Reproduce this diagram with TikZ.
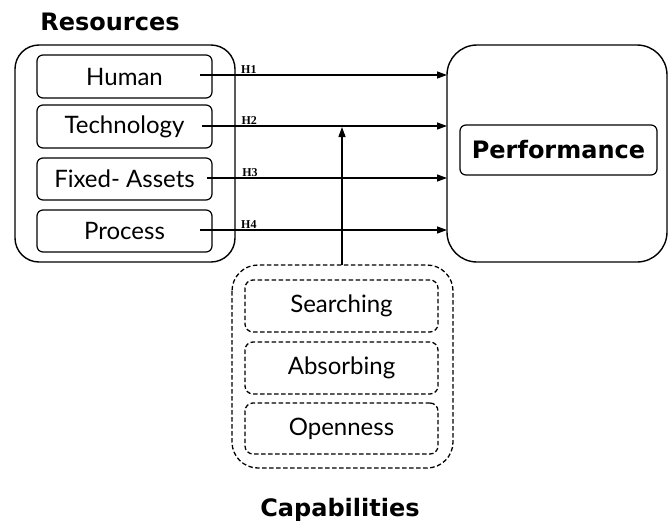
\documentclass[tikz,border=0pt]{standalone}
\usepackage{fontspec}
\setmainfont{Lato}
\newfontfamily\hfont{Liberation Serif}
\newfontfamily\tfont{DejaVu Sans}
\usetikzlibrary{arrows.meta}
\begin{document}
\begin{tikzpicture}[x=1pt,y=-1pt,
  outerbox/.style={draw, line width=1.4pt, rounded corners=24pt},
  innerbox/.style={draw, line width=1.2pt, rounded corners=6pt, font=\fontsize{24}{27}\selectfont},
  dbox/.style={draw, line width=1.3pt, dash pattern=on 4.5pt off 2.5pt},
  arr/.style={line width=1.3pt, -{Triangle[length=10pt,width=7pt]}},
  hlab/.style={font=\hfont\bfseries\fontsize{12}{13}\selectfont, anchor=south west, inner sep=1pt},
  title/.style={font=\tfont\bfseries\fontsize{24}{27}\selectfont}]
\useasboundingbox (0,0) rectangle (669,525);
% Resources
\node[title] (restitle) at (110,22) {Resources};
\draw[outerbox] (15,45) rectangle (235,262);
\node[innerbox, minimum width=175pt, minimum height=43pt] (human) at (124.5,76.5) {Human};
\node[innerbox, minimum width=175pt, minimum height=43pt] (tech) at (124.5,126.5) {Technology};
\node[innerbox, minimum width=175pt, minimum height=42pt] (fixed) at (124.5,179) {Fixed- Assets};
\node[innerbox, minimum width=175pt, minimum height=42pt] (proc) at (124.5,231) {Process};
% Performance
\draw[outerbox, rounded corners=30pt] (447,45) rectangle (667,262);
\node[innerbox, font=\tfont\bfseries\fontsize{24}{27}\selectfont, minimum width=197pt, minimum height=50pt] (perf) at (558.5,150) {Performance};
% arrows
\coordinate (e1) at (447,75);
\coordinate (e2) at (447,126);
\coordinate (e3) at (447,178);
\coordinate (e4) at (447,230);
\coordinate (s1) at (200,75);
\coordinate (s2) at (202,126);
\coordinate (s3) at (207,178);
\coordinate (s4) at (200,230);
\draw[arr] (s1) -- node[hlab, pos=0.16] {H1} (e1);
\draw[arr] (s2) -- node[hlab, pos=0.155] {H2} (e2);
\draw[arr] (s3) -- node[hlab, pos=0.14] {H3} (e3);
\draw[arr] (s4) -- node[hlab, pos=0.16] {H4} (e4);
% Capabilities
\draw[dbox, rounded corners=26pt] (232,265) rectangle (453,468);
\node[dbox, rounded corners=8pt, minimum width=193pt, minimum height=52pt, font=\fontsize{24}{27}\selectfont] (search) at (341.5,306) {Searching};
\node[dbox, rounded corners=8pt, minimum width=193pt, minimum height=52pt, font=\fontsize{24}{27}\selectfont] (absorb) at (341.5,368) {Absorbing};
\node[dbox, rounded corners=8pt, minimum width=193pt, minimum height=51pt, font=\fontsize{24}{27}\selectfont] (open) at (341.5,428.5) {Openness};
\coordinate (vbot) at (342,265);
\coordinate (vtop) at (342,127);
\draw[arr] (vbot) -- (vtop);
\node[title] (captitle) at (340,510) {Capabilities};
\end{tikzpicture}
\end{document}
